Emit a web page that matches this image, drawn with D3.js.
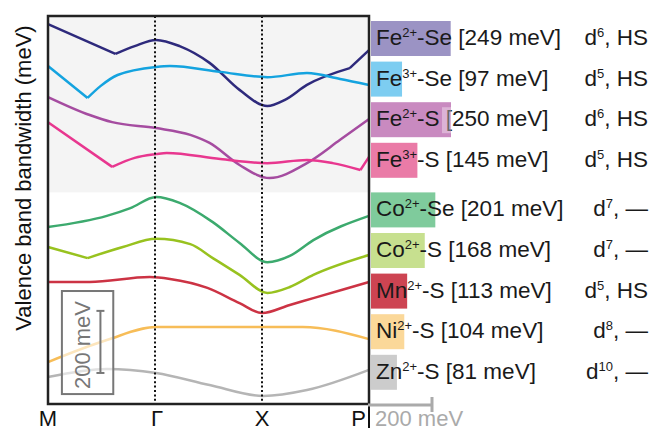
<!DOCTYPE html>
<html>
<head>
<meta charset="utf-8">
<script src="https://cdn.jsdelivr.net/npm/d3@7"></script>
<style>
  body { margin: 0; background: #fff; }
  svg { display: block; font-family: "Liberation Sans", Arial, Helvetica, sans-serif; }
</style>
</head>
<body>
<div id="chart"></div>
<script>
var width = 651;
var height = 431;

// k-path labels (M - Gamma - X - P)
var kLabels = ["M", "\u0393", "X", "P"];

// compounds, top to bottom
var ions = ["Fe", "Fe", "Fe", "Fe", "Co", "Co", "Mn", "Ni", "Zn"];
var charges = ["2+", "3+", "2+", "3+", "2+", "2+", "2+", "2+", "2+"];
var anions = ["Se", "Se", "S", "S", "Se", "S", "S", "S", "S"];
var bandwidths = [249, 97, 250, 145, 201, 168, 113, 104, 81];
var dCount = ["6", "5", "6", "5", "7", "7", "5", "8", "10"];
var spinState = ["HS", "HS", "HS", "HS", "\u2014", "\u2014", "HS", "\u2014", "\u2014"];

var lineColors = ["#2e2a7c", "#14a3df", "#a54ca0", "#e8378f", "#3caa6e", "#98c21f", "#cc3344", "#f7bd58", "#b5b5b5"];
var fillColors = ["#9b93c4", "#7dcdf1", "#c98ac0", "#ea7ba7", "#7fcb9c", "#c7e08f", "#cd4452", "#fbd899", "#cccccc"];

// band dispersions: pieces of [k, energy in meV], split at kinks
var feSe2Band = [
  [[0, 1224], [0.63, 1128]],
  [[0.63, 1128], [0.81, 1153], [1.01, 1173], [1.23, 1153], [1.51, 1099], [1.79, 1012], [2.05, 960], [2.21, 979], [2.42, 1028], [2.82, 1082]],
  [[2.82, 1082], [3, 1140]]
];
var feSe3Band = [
  [[0, 1089], [0.37, 986]],
  [[0.37, 986], [0.49, 1024], [0.65, 1060], [1.01, 1086], [1.14, 1089], [1.61, 1070], [2.05, 1053], [2.42, 1066], [2.73, 1047], [3, 1028]]
];
var feS2Band = [
  [[0, 989], [0.39, 931], [0.6, 908], [1.01, 889], [1.33, 867], [1.51, 841], [1.79, 770], [2.07, 728], [2.42, 776], [2.73, 851], [3, 918]]
];
var feS3Band = [
  [[0, 908], [0.6, 764]],
  [[0.6, 764], [0.81, 793], [1.01, 805], [1.11, 809], [1.61, 789], [2.05, 776], [2.42, 786], [2.66, 776], [2.92, 754]],
  [[2.92, 754], [3, 796]]
];
var coSe2Band = [
  [[0, 570], [0.55, 606], [0.77, 631], [1.01, 667], [1.23, 648], [1.54, 586], [1.79, 519], [2.05, 457], [2.26, 477], [2.48, 528], [3, 606]]
];
var coS2Band = [
  [[0, 506], [0.37, 470]],
  [[0.37, 470], [0.7, 506], [1.01, 532], [1.33, 515], [1.54, 470], [1.79, 416], [2.05, 358], [2.26, 377], [2.48, 416], [3, 480]]
];
var mnS2Band = [
  [[0, 393], [0.39, 393], [0.95, 409], [1.14, 403], [1.49, 374], [1.79, 325], [2, 293], [2.26, 319], [2.48, 341], [3, 393]]
];
var niS2Band = [
  [[0, 135], [0.55, 206], [1.01, 248], [2.05, 248], [2.38, 248], [3, 209]]
];
var znS2Band = [
  [[0, 87], [0.55, 113], [1.01, 100], [1.51, 61], [2.01, 26], [2.42, 45], [3, 110]]
];

var bands = [feSe2Band, feSe3Band, feS2Band, feS3Band, coSe2Band, coS2Band, mnS2Band, niS2Band, znS2Band];

// scale bar values (meV)
var scaleBarMeV = 200;

var plot = { left: 48, right: 369, top: 16, bottom: 404 };

function createSVG() {
  return d3.select("#chart").append("svg")
    .attr("width", width)
    .attr("height", height);
}

function rowTop(i) {
  // two groups: Fe compounds, then the rest
  return 21 + i * 40.6 + (i >= 4 ? 9 : 0);
}

function drawPlot(svg, kScale, eScale) {
  // shaded area behind the Fe group
  svg.append("rect")
    .attr("x", plot.left).attr("y", plot.top)
    .attr("width", plot.right - plot.left)
    .attr("height", rowTop(4) - plot.top)
    .attr("fill", "#f4f4f4");

  var line = d3.line()
    .x(function(d) { return kScale(d[0]); })
    .y(function(d) { return eScale(d[1]); })
    .curve(d3.curveMonotoneX);

  bands.forEach(function(pieces, i) {
    svg.append("path")
      .attr("d", pieces.map(function(p) { return line(p); }).join(""))
      .attr("fill", "none")
      .attr("stroke", lineColors[i])
      .attr("stroke-width", 2.5)
      .attr("stroke-linejoin", "round");
  });

  // high-symmetry points
  svg.selectAll(".kline")
    .data([1, 2])
    .enter().append("line")
    .attr("x1", function(d) { return kScale(d); })
    .attr("x2", function(d) { return kScale(d); })
    .attr("y1", plot.top)
    .attr("y2", plot.bottom)
    .attr("stroke", "#111")
    .attr("stroke-width", 2)
    .attr("stroke-dasharray", "2,2.4");

  // vertical 200 meV scale box
  var barK = 0.49, barE0 = 100;
  svg.append("rect")
    .attr("x", kScale(0.13)).attr("y", eScale(364))
    .attr("width", kScale(0.61) - kScale(0.13))
    .attr("height", eScale(32) - eScale(364))
    .attr("fill", "#fff").attr("fill-opacity", 0.6)
    .attr("stroke", "#777").attr("stroke-width", 2);
  var bx = kScale(barK);
  var g = svg.append("g").attr("stroke", "#777").attr("stroke-width", 2);
  g.append("line").attr("x1", bx).attr("x2", bx)
    .attr("y1", eScale(barE0)).attr("y2", eScale(barE0 + scaleBarMeV));
  [barE0, barE0 + scaleBarMeV].forEach(function(e) {
    g.append("line").attr("x1", bx - 4).attr("x2", bx + 4)
      .attr("y1", eScale(e)).attr("y2", eScale(e));
  });
  svg.append("text")
    .attr("transform", "translate(" + (bx - 10) + "," + eScale(barE0 + scaleBarMeV / 2 - 10) + ") rotate(-90)")
    .attr("text-anchor", "middle")
    .attr("font-size", 22)
    .attr("fill", "#777")
    .text(scaleBarMeV + " meV");

  // frame
  svg.append("rect")
    .attr("x", plot.left).attr("y", plot.top)
    .attr("width", plot.right - plot.left)
    .attr("height", plot.bottom - plot.top)
    .attr("fill", "none")
    .attr("stroke", "#222")
    .attr("stroke-width", 2.5);

  // k labels
  svg.selectAll(".klabel")
    .data(kLabels)
    .enter().append("text")
    .attr("x", function(d, i) { return i === 3 ? kScale(i) - 3 : kScale(i) + (i === 1 ? 2 : 0); })
    .attr("y", 426)
    .attr("text-anchor", function(d, i) { return i === 3 ? "end" : "middle"; })
    .attr("font-size", 22)
    .attr("fill", "#111")
    .text(function(d) { return d; });
  svg.append("line")
    .attr("x1", kScale(3)).attr("x2", kScale(3))
    .attr("y1", plot.bottom).attr("y2", 428)
    .attr("stroke", "#111").attr("stroke-width", 2);

  // y axis title
  svg.append("text")
    .attr("transform", "translate(31," + ((plot.top + 340) / 2) + ") rotate(-90)")
    .attr("text-anchor", "middle")
    .attr("font-size", 22)
    .attr("fill", "#111")
    .text("Valence band bandwidth (meV)");
}

function drawLegend(svg, bwScale) {
  var x0 = 371;
  var rows = svg.selectAll(".row")
    .data(bandwidths)
    .enter().append("g")
    .attr("transform", function(d, i) { return "translate(0," + rowTop(i) + ")"; });

  rows.append("rect")
    .attr("x", x0).attr("y", 0)
    .attr("width", function(d) { return bwScale(d); })
    .attr("height", 35)
    .attr("fill", function(d, i) { return fillColors[i]; });

  var label = rows.append("text")
    .attr("x", 376).attr("y", 24)
    .attr("font-size", 22.5)
    .attr("fill", "#1a1a1a");
  label.append("tspan").text(function(d, i) { return ions[i]; });
  label.append("tspan")
    .attr("font-size", 13).attr("dy", -8)
    .text(function(d, i) { return charges[i]; });
  label.append("tspan")
    .attr("dy", 8)
    .text(function(d, i) { return "-" + anions[i] + " [" + d + " meV]"; });

  var dLabel = rows.append("text")
    .attr("x", 648).attr("y", 24)
    .attr("text-anchor", "end")
    .attr("font-size", 22.5)
    .attr("fill", "#1a1a1a");
  dLabel.append("tspan").text("d");
  dLabel.append("tspan")
    .attr("font-size", 13).attr("dy", -8)
    .text(function(d, i) { return dCount[i]; });
  dLabel.append("tspan")
    .attr("dy", 8)
    .text(function(d, i) { return ", " + spinState[i]; });

  // light patch over the Fe2+-S bar
  svg.append("rect")
    .attr("x", x0 + bwScale(bandwidths[2]) - 9).attr("y", rowTop(2) + 5)
    .attr("width", 9).attr("height", 26)
    .attr("fill", "#fff").attr("fill-opacity", 0.35);

  // horizontal bandwidth scale bar
  var sx0 = 368;
  var g = svg.append("g").attr("stroke", "#aaa").attr("stroke-width", 3);
  g.append("line")
    .attr("x1", sx0).attr("x2", sx0 + bwScale(scaleBarMeV))
    .attr("y1", 405).attr("y2", 405);
  g.append("line")
    .attr("x1", sx0 + bwScale(scaleBarMeV)).attr("x2", sx0 + bwScale(scaleBarMeV))
    .attr("y1", 397).attr("y2", 412);
  svg.append("text")
    .attr("x", 375).attr("y", 426)
    .attr("font-size", 22)
    .attr("fill", "#aaa")
    .text(scaleBarMeV + " meV");
}

function main() {
  var svg = createSVG();
  var kScale = d3.scaleLinear().domain([0, 3]).range([plot.left, plot.right]);
  var eScale = d3.scaleLinear().domain([0, 1250]).range([plot.bottom, plot.top]);
  var bwScale = d3.scaleLinear().domain([0, 200]).range([0, 64]);
  drawPlot(svg, kScale, eScale);
  drawLegend(svg, bwScale);
}

window.onload = function() {
  main();
};
</script>
</body>
</html>
